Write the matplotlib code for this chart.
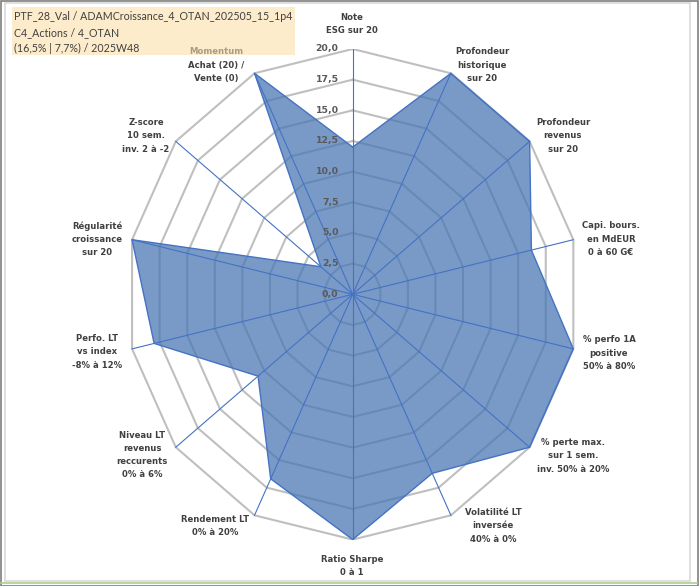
import numpy as np
import matplotlib
matplotlib.use("Agg")
import matplotlib.pyplot as plt
from matplotlib.patches import Rectangle
from matplotlib.lines import Line2D

# axes of the radar, clockwise from the top
categories = [
    "Note\nESG sur 20",
    "Profondeur\nhistorique\nsur 20",
    "Profondeur\nrevenus\nsur 20",
    "Capi. bours.\nen MdEUR\n0 à 60 G€",
    "% perfo 1A\npositive\n50% à 80%",
    "% perte max.\nsur 1 sem.\ninv. 50% à 20%",
    "Volatilité LT\ninversée\n40% à 0%",
    "Ratio Sharpe\n0 à 1",
    "Rendement LT\n0% à 20%",
    "Niveau LT\nrevenus\nreccurents\n0% à 6%",
    "Perfo. LT\nvs index\n-8% à 12%",
    "Régularité\ncroissance\nsur 20",
    "Z-score\n10 sem.\ninv. 2 à -2",
    "Momentum\nAchat (20) /\nVente (0)",
]
scores = [12.0, 20.0, 20.0, 16.2, 20.0, 20.0, 16.2, 20.0, 16.7, 10.7, 18.0, 20.0, 3.6, 20.0]
ring_levels = [2.5, 5.0, 7.5, 10.0, 12.5, 15.0, 17.5, 20.0]
tick_levels = [0.0, 2.5, 5.0, 7.5, 10.0, 12.5, 15.0, 17.5, 20.0]
title_lines = [
    "PTF_28_Val / ADAMCroissance_4_OTAN_202505_15_1p4",
    "C4_Actions / 4_OTAN",
    "(16,5% | 7,7%) / 2025W48",
]
# label centres in pixels (x, y from top)
label_pos = [(352, 24), (482, 65), (563, 136), (611, 239), (609, 353), (573, 456),
             (493, 526), (352, 566), (215, 526), (142, 455), (97, 352), (97, 239),
             (146, 136), (216, 65)]

W, H = 700, 586
fig = plt.figure(figsize=(W / 100, H / 100), dpi=100)

cx, cy, rx, ry = 352.7, 294.3, 226.3, 245.3
ax = fig.add_axes([(cx - rx) / W, (H - cy - ry) / H, 2 * rx / W, 2 * ry / H])
ax.set_xlim(-20, 20)
ax.set_ylim(-20, 20)
ax.axis("off")

n = len(categories)
ang = np.arange(n) * 2 * np.pi / n
sx, sy = np.sin(ang), np.cos(ang)

# grid rings
for lv in ring_levels:
    ax.plot(np.append(sx, sx[0]) * lv, np.append(sy, sy[0]) * lv,
            color="#BFBFBF", lw=1.5, zorder=1)

vals = np.array(scores)
px, py = sx * vals, sy * vals
ax.fill(px, py, color="#4574B2", alpha=0.72, lw=0, zorder=2)

# spokes
for a, b in zip(sx, sy):
    ax.plot([0, a * 20], [0, b * 20], color="#4472C4", lw=0.8, zorder=3)

ax.plot(np.append(px, px[0]), np.append(py, py[0]), color="#4472C4", lw=1.0, zorder=4)

for lv in tick_levels:
    ax.text(-1.25, lv, f"{lv:.1f}".replace(".", ","), ha="right", va="center",
            fontsize=6.7, fontweight="bold", color="#595959", zorder=5)

# category labels
for i, (lab, (x, y)) in enumerate(zip(categories, label_pos)):
    if i == n - 1:
        first, rest = lab.split("\n", 1)
        fig.text(x / W, 1 - (y - 13.5) / H, first, ha="center", va="center",
                 fontsize=6.1, fontweight="bold", color="#A89C86", zorder=6)
        fig.text(x / W, 1 - (y + 7) / H, rest, ha="center", va="center",
                 fontsize=6.1, fontweight="bold", color="#404040", linespacing=1.6)
    else:
        fig.text(x / W, 1 - y / H, lab, ha="center", va="center",
                 fontsize=6.1, fontweight="bold", color="#404040", linespacing=1.6)

# title box
fig.patches.append(Rectangle((12 / W, 1 - 55 / H), 283 / W, 48 / H, transform=fig.transFigure,
                             facecolor="#FCE9C4", edgecolor="none", alpha=0.85, zorder=5))
for k, t in enumerate(title_lines):
    fig.text(14 / W, 1 - (17 + 15.5 * k) / H, t, ha="left", va="center",
             fontsize=7.7, family="Lato", color="#404040", zorder=7)

# frame
fig.patches.append(Rectangle((5 / W, 1 - 581 / H), 685 / W, 578 / H, transform=fig.transFigure,
                             facecolor="none", edgecolor="#D9D9D9", lw=1.2))
fig.lines.append(Line2D([0, 697 / W], [1 - 583 / H] * 2, transform=fig.transFigure,
                        color="#A9D18E", lw=1.2))
fig.patches.append(Rectangle((0.5 / W, 1 - 585.5 / H), 697 / W, 585 / H, transform=fig.transFigure,
                             facecolor="none", edgecolor="#7F7F7F", lw=1.2))

fig.savefig("out.png", dpi=100)
